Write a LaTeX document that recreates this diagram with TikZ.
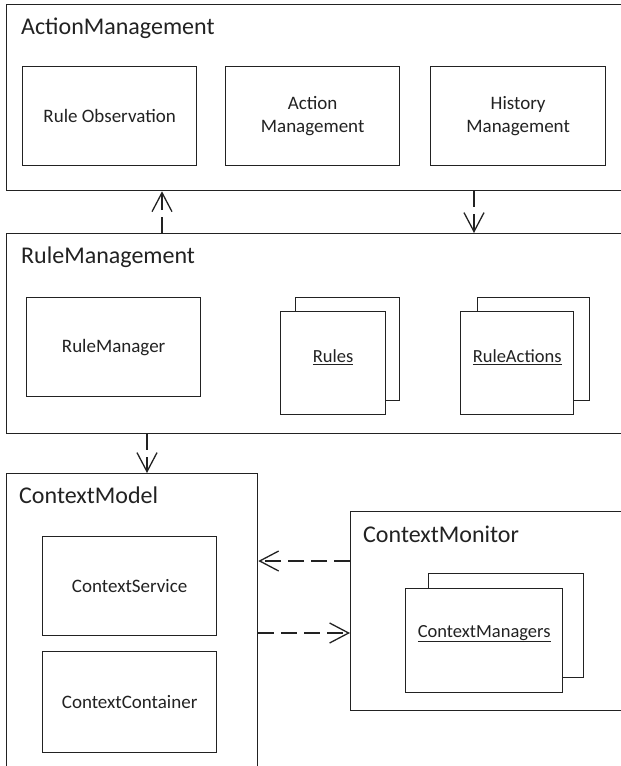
\documentclass[tikz,border=0pt]{standalone}
\usepackage{fontspec}
\setmainfont{Carlito}
\usetikzlibrary{arrows.meta,calc}
\definecolor{ink}{HTML}{222222}
\tikzset{
  pkg/.style={draw=ink, line width=1.3pt, fill=white, anchor=north west, inner sep=0pt},
  comp/.style={draw=ink, line width=1.3pt, fill=white, anchor=north west, inner sep=0pt,
    align=center, font=\fontsize{19}{23}\selectfont, text=ink},
  pkgtitle/.style={anchor=base west, inner sep=0pt, font=\fontsize{24}{28}\selectfont, text=ink},
  objlabel/.style={inner sep=0pt, font=\fontsize{18.5}{23}\selectfont, text=ink},
  dep/.style={draw=ink, line width=1.3pt, dash pattern=on 16pt off 7pt,
    -{Straight Barb[length=19pt, width=20pt, line width=1.3pt]}}
}
\begin{document}
\begin{tikzpicture}[x=1pt, y=-1pt]
  \useasboundingbox (0,0) rectangle (621,766);

  % --- ActionManagement package ---
  \node[pkg, minimum width=617pt, minimum height=186pt] (am) at (6,4) {};
  \node[pkgtitle] (amt) at (21,34) {ActionManagement};
  \node[comp, minimum width=174pt, minimum height=99pt] (ro) at (22,66) {Rule Observation};
  \node[comp, minimum width=174pt, minimum height=99pt] (acm) at (225,66) {Action\\Management};
  \node[comp, minimum width=175pt, minimum height=99pt] (hm) at (430,66) {History\\Management};

  % --- RuleManagement package ---
  \node[pkg, minimum width=617pt, minimum height=200pt] (rm) at (6,233) {};
  \node[pkgtitle] (rmt) at (21,263) {RuleManagement};
  \node[comp, minimum width=174pt, minimum height=99pt] (rmgr) at (26,297) {RuleManager};
  % stacked object boxes
  \node[pkg, minimum width=104pt, minimum height=103pt] (rulesb) at (295,297) {};
  \node[pkg, minimum width=105pt, minimum height=103pt] (rules) at (280,311) {};
  \node[objlabel] (rulesl) at ($(rules.center)+(0,-6)$) {\underline{Rules}};
  \node[pkg, minimum width=112pt, minimum height=103pt] (rab) at (477,297) {};
  \node[pkg, minimum width=113pt, minimum height=103pt] (ra) at (460,311) {};
  \node[objlabel] (ral) at ($(ra.center)+(0,-6)$) {\underline{RuleActions}};

  % --- ContextModel package (runs past the lower edge) ---
  \node[pkg, minimum width=251pt, minimum height=300pt] (cmod) at (6,473) {};
  \node[pkgtitle] (cmodt) at (19,503) {ContextModel};
  \node[comp, minimum width=174pt, minimum height=99pt] (cs) at (42,536) {ContextService};
  \node[comp, minimum width=174pt, minimum height=101pt] (cc) at (42,651) {ContextContainer};

  % --- ContextMonitor package ---
  \node[pkg, minimum width=273pt, minimum height=199pt] (cmon) at (350,511) {};
  \node[pkgtitle] (cmont) at (363,542) {ContextMonitor};
  \node[pkg, minimum width=155pt, minimum height=104pt] (cmgb) at (428,573) {};
  \node[pkg, minimum width=157pt, minimum height=104pt] (cmg) at (405,588) {};
  \node[objlabel] (cmgl) at ($(cmg.center)+(0,-7)$) {\underline{ContextManagers}};

  % --- dependencies ---
  \coordinate (xa) at (162,0);
  \coordinate (xb) at (474,0);
  \coordinate (xc) at (147,0);
  \coordinate (ya) at (0,561);
  \coordinate (yb) at (0,633);
  \draw[dep] (rm.north -| xa) -- (am.south -| xa);
  \draw[dep] (am.south -| xb) -- (rm.north -| xb);
  \draw[dep] (rm.south -| xc) -- (cmod.north -| xc);
  \draw[dep] (cmon.west |- ya) -- (cmod.east |- ya);
  \draw[dep] (cmod.east |- yb) -- (cmon.west |- yb);
\end{tikzpicture}
\end{document}
